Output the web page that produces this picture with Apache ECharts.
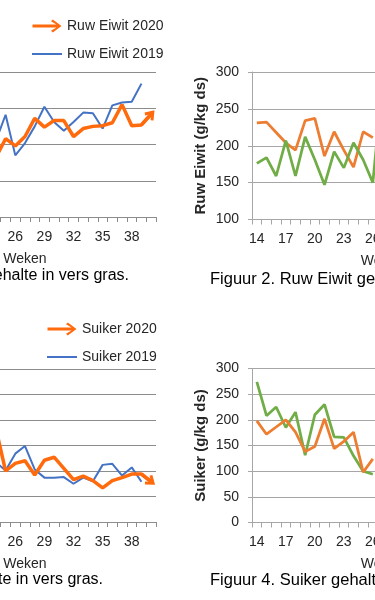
<!DOCTYPE html>
<html>
<head>
<meta charset="utf-8">
<script src="https://cdn.jsdelivr.net/npm/echarts@6/dist/echarts.min.js"></script>
<style>
  html, body { margin: 0; padding: 0; background: #fff; }
  body { width: 375px; height: 600px; overflow: hidden; position: relative; }
  /* the figure is a crop of a wider page: draw it wider and shift it left */
  #chart { position: absolute; left: -200px; top: 0; width: 800px; height: 600px; }
</style>
</head>
<body>
<div id="chart"></div>
<script>
// x axis: weeks
const weeks = ['14','15','16','17','18','19','20','21','22','23','24','25','26','27',
               '28','29','30','31','32','33','34','35','36','37','38','39','40'];

// Figuur 1 - ruw eiwit (g/kg ds), only weeks 24+ are visible in the crop
const eiwit2020 = [null, null, null, null, null, null, null, null, null, null,
                   182, 208, 198, 211, 236, 224, 233, 233, 211, 222, 225, 226, 230, 255, 226, 227, 242];
const eiwit2019 = [null, null, null, null, null, null, null, null, null, null,
                   205, 241, 185, 202, 225, 252, 231, 219, 231, 244, 243, 222, 254, 258, 259, 284, null];

// Figuur 2 - ruw eiwit, orange and green lines (weeks 14-27 visible)
const fig2Orange = [231, 232, 218, 204, 194, 234, 237, 186, 219, 194, 171, 219, 211];
const fig2Green  = [176, 184, 159, 207, 159, 212, 181, 147, 192, 170, 204, 181, 150, 285];

// Figuur 3 - suiker (g/kg ds)
const suiker2020 = [null, null, null, null, null, null, null, null, null, null,
                    183, 100, 115, 120, 92, 121, 127, 105, 83, 90, 81, 67, 81, 87, 94, 94, 79];
const suiker2019 = [null, null, null, null, null, null, null, null, null, null,
                    117, 101, 134, 149, 103, 87, 87, 88, 75, 87, 80, 112, 114, 91, 107, 79, null];

// Figuur 4 - suiker, orange and green lines
const fig4Orange = [198, 172, 186, 200, 176, 138, 148, 202, 144, 158, 176, 98, 124];
const fig4Green  = [274, 208, 225, 185, 215, 131, 210, 230, 167, 166, 130, 100, 94];

const ORANGE_BRIGHT = '#FF6A0D';
const BLUE = '#4472C4';
const ORANGE = '#ED7D31';
const GREEN = '#70AD47';
const TEXT = '#262626';
const FONT = 'Liberation Sans';

const arrowIcon = 'path://M0,5 L24,5 L18.5,1.8 L20.3,0 L29,6.5 L20.3,13 L18.5,11.2 L24,8 L0,8 Z';
const lineIcon = 'path://M0,0 L30,0 L30,2 L0,2 Z';
const chevron = 'path://M5,0 L10,7 L8,8.6 L5,4.2 L2,8.6 L0,7 Z';

// arrow head on the last segment of a 2020 line
function arrowEnd(data, color) {
    const i1 = data.length - 1;
    const i0 = i1 - 1;
    return {
        silent: true,
        symbol: ['none', chevron],
        symbolSize: [12, 10],
        lineStyle: { color: color, width: 3.5, type: 'solid' },
        label: { show: false },
        emphasis: { disabled: true },
        data: [[{ coord: [weeks[i0], data[i0]] }, { coord: [weeks[i1], data[i1]] }]]
    };
}

function xAxis(gridIndex, gridColor) {
    return {
        type: 'category',
        gridIndex: gridIndex,
        data: weeks,
        boundaryGap: true,
        name: 'Weken',
        nameLocation: 'middle',
        nameGap: 35,
        nameTextStyle: { color: TEXT, fontSize: 14, fontFamily: FONT },
        axisLine: { lineStyle: { color: gridColor, width: 1 } },
        axisTick: { show: true, interval: 0, length: 5, lineStyle: { color: gridColor } },
        axisLabel: { interval: 2, margin: 13, color: TEXT, fontSize: 14, fontFamily: FONT }
    };
}

function yAxis(gridIndex, min, max, gridColor, name) {
    return {
        type: 'value',
        gridIndex: gridIndex,
        min: min,
        max: max,
        interval: 50,
        name: name,
        nameLocation: 'middle',
        nameGap: 44,
        nameTextStyle: { color: TEXT, fontSize: 15, fontWeight: 'bold', fontFamily: FONT },
        axisLine: { show: true, lineStyle: { color: gridColor } },
        axisTick: { show: true, length: 4, lineStyle: { color: gridColor } },
        axisLabel: { color: TEXT, fontSize: 14, fontFamily: FONT, margin: 13 },
        splitLine: { lineStyle: { color: gridColor, width: 1 } }
    };
}

const chart = echarts.init(document.getElementById('chart'));

chart.setOption({
    backgroundColor: '#fff',
    animation: false,
    grid: [
        { left: 94, top: 72, width: 262, height: 145 },
        { left: 452, top: 72, width: 261, height: 147.5 },
        { left: 94, top: 369, width: 262, height: 153 },
        { left: 452, top: 368.5, width: 261, height: 154 }
    ],
    xAxis: [
        xAxis(0, '#8c8c8c'),
        xAxis(1, '#a6a6a6'),
        xAxis(2, '#8c8c8c'),
        xAxis(3, '#a6a6a6')
    ],
    yAxis: [
        yAxis(0, 100, 300, '#8c8c8c', ''),
        yAxis(1, 100, 300, '#a6a6a6', 'Ruw Eiwit (g/kg ds)'),
        yAxis(2, 0, 300, '#8c8c8c', ''),
        yAxis(3, 0, 300, '#a6a6a6', 'Suiker (g/kg ds)')
    ],
    legend: [
        {
            data: [{ name: 'Ruw Eiwit 2020', icon: arrowIcon }, { name: 'Ruw Eiwit 2019', icon: lineIcon }],
            orient: 'vertical', left: 232, top: 19, padding: 0,
            itemWidth: 30, itemHeight: 13, itemGap: 14,
            textStyle: { color: TEXT, fontSize: 14, fontFamily: FONT }
        },
        {
            data: [{ name: 'Suiker 2020', icon: arrowIcon }, { name: 'Suiker 2019', icon: lineIcon }],
            orient: 'vertical', left: 247, top: 322, padding: 0,
            itemWidth: 30, itemHeight: 13, itemGap: 14,
            textStyle: { color: TEXT, fontSize: 14, fontFamily: FONT }
        }
    ],
    graphic: [
        { type: 'text', x: 329, y: 276, style: { text: 'Figuur 1. Ruw Eiwit gehalte in vers gras.', align: 'right', verticalAlign: 'middle', fill: '#000', fontSize: 16, fontFamily: FONT } },
        { type: 'text', x: 410, y: 279, style: { text: 'Figuur 2. Ruw Eiwit gehalte in vers gras.', align: 'left', verticalAlign: 'middle', fill: '#000', fontSize: 16.5, fontFamily: FONT } },
        { type: 'text', x: 303, y: 580, style: { text: 'Figuur 3. Suiker gehalte in vers gras.', align: 'right', verticalAlign: 'middle', fill: '#000', fontSize: 16, fontFamily: FONT } },
        { type: 'text', x: 410, y: 580, style: { text: 'Figuur 4. Suiker gehalte in vers gras.', align: 'left', verticalAlign: 'middle', fill: '#000', fontSize: 16.5, fontFamily: FONT } }
    ],
    series: [
        {
            name: 'Ruw Eiwit 2019', type: 'line', xAxisIndex: 0, yAxisIndex: 0,
            data: eiwit2019, showSymbol: false, symbol: 'none',
            itemStyle: { color: BLUE }, lineStyle: { color: BLUE, width: 2 }
        },
        {
            name: 'Ruw Eiwit 2020', type: 'line', xAxisIndex: 0, yAxisIndex: 0,
            data: eiwit2020, showSymbol: false, symbol: 'none',
            itemStyle: { color: ORANGE_BRIGHT }, lineStyle: { color: ORANGE_BRIGHT, width: 3.5 },
            markLine: arrowEnd(eiwit2020, ORANGE_BRIGHT)
        },
        {
            name: 'Figuur 2 oranje', type: 'line', xAxisIndex: 1, yAxisIndex: 1,
            data: fig2Orange, showSymbol: false, symbol: 'none',
            itemStyle: { color: ORANGE }, lineStyle: { color: ORANGE, width: 2.75 }
        },
        {
            name: 'Figuur 2 groen', type: 'line', xAxisIndex: 1, yAxisIndex: 1,
            data: fig2Green, showSymbol: false, symbol: 'none',
            itemStyle: { color: GREEN }, lineStyle: { color: GREEN, width: 2.75 }
        },
        {
            name: 'Suiker 2019', type: 'line', xAxisIndex: 2, yAxisIndex: 2,
            data: suiker2019, showSymbol: false, symbol: 'none',
            itemStyle: { color: BLUE }, lineStyle: { color: BLUE, width: 2 }
        },
        {
            name: 'Suiker 2020', type: 'line', xAxisIndex: 2, yAxisIndex: 2,
            data: suiker2020, showSymbol: false, symbol: 'none',
            itemStyle: { color: ORANGE_BRIGHT }, lineStyle: { color: ORANGE_BRIGHT, width: 3.5 },
            markLine: arrowEnd(suiker2020, ORANGE_BRIGHT)
        },
        {
            name: 'Figuur 4 groen', type: 'line', xAxisIndex: 3, yAxisIndex: 3,
            data: fig4Green, showSymbol: false, symbol: 'none',
            itemStyle: { color: GREEN }, lineStyle: { color: GREEN, width: 2.75 }
        },
        {
            name: 'Figuur 4 oranje', type: 'line', xAxisIndex: 3, yAxisIndex: 3,
            data: fig4Orange, showSymbol: false, symbol: 'none',
            itemStyle: { color: ORANGE }, lineStyle: { color: ORANGE, width: 2.75 }
        }
    ]
});
</script>
</body>
</html>
